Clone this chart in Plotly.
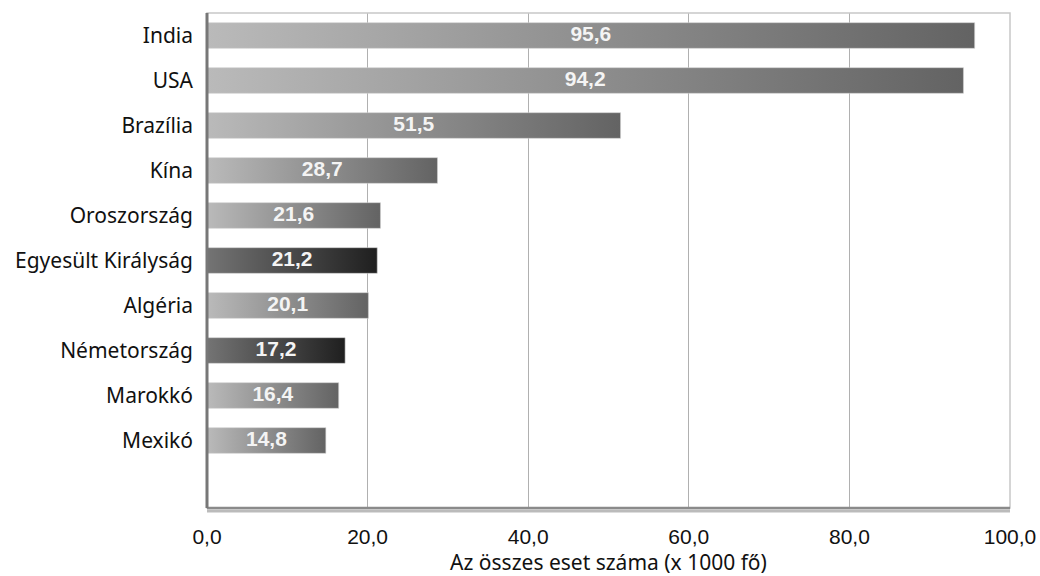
import plotly.graph_objects as go

countries = ["India", "USA", "Brazília", "Kína", "Oroszország", "Egyesült Királyság",
             "Algéria", "Németország", "Marokkó", "Mexikó"]
cases = [95.6, 94.2, 51.5, 28.7, 21.6, 21.2, 20.1, 17.2, 16.4, 14.8]
highlighted = ["Egyesült Királyság", "Németország"]
x_ticks = [0, 20, 40, 60, 80, 100]

light_scale = [[0, "#bababa"], [1, "#636363"]]
dark_scale = [[0, "#747474"], [1, "#1f1f1f"]]
half = 0.285

fig = go.Figure()
for i, (name, val) in enumerate(zip(countries, cases)):
    scale = dark_scale if name in highlighted else light_scale
    fig.add_trace(go.Scatter(
        x=[0, val, val, 0, 0],
        y=[i - half, i - half, i + half, i + half, i - half],
        mode="lines", line=dict(width=0.6, color="#d0d0d0"),
        fill="toself",
        fillgradient=dict(type="horizontal", colorscale=scale),
        hoverinfo="skip", showlegend=False,
    ))

fig.add_trace(go.Scatter(
    x=[v / 2 for v in cases], y=list(range(len(cases))),
    mode="text", text=[f"{v:.1f}".replace(".", ",") for v in cases],
    textfont=dict(family="Liberation Sans, Arial", size=21, color="#f4f4f4", weight="bold"),
    textposition="middle center", showlegend=False, hoverinfo="skip",
))

fig.update_layout(
    width=1040, height=576,
    margin=dict(l=207, r=30, t=13, b=68),
    paper_bgcolor="white", plot_bgcolor="white",
    separators=",.",
    font=dict(family="Noto Sans", size=21, color="#111"),
    xaxis=dict(
        range=[0, 100], tickvals=x_ticks, tickformat=".1f",
        showgrid=True, gridcolor="#b0b0b0", gridwidth=1.2,
        zeroline=False, showline=False, ticks="",
        tickfont=dict(family="Liberation Sans, Arial", size=21, color="#111"),
        ticklabelstandoff=14, automargin=False,
        title=dict(text="Az összes eset száma (x 1000 fő)",
                   font=dict(family="Noto Sans", size=21), standoff=2),
        fixedrange=True,
    ),
    yaxis=dict(
        range=[10.5, -0.5], tickvals=list(range(len(countries))), ticktext=countries,
        showgrid=False, zeroline=False, showline=False, ticks="",
        ticklabelstandoff=13, automargin=False, fixedrange=True,
    ),
    shapes=[
        # outer frame
        dict(type="rect", xref="paper", yref="paper", x0=0, y0=0, x1=1, y1=1,
             line=dict(color="#c8c8c8", width=1.5), layer="above"),
        # bottom axis line with soft shadow
        dict(type="line", xref="paper", yref="paper", x0=0, y0=-0.006, x1=1, y1=-0.006,
             line=dict(color="#bbbbbb", width=3), layer="above"),
        dict(type="line", xref="paper", yref="paper", x0=0, y0=0, x1=1, y1=0,
             line=dict(color="#8a8a8a", width=2.5), layer="above"),
        # left axis line
        dict(type="line", xref="paper", yref="paper", x0=0, y0=0, x1=0, y1=1,
             line=dict(color="#777777", width=3), layer="above"),
    ],
)

fig.write_html("out.html")
